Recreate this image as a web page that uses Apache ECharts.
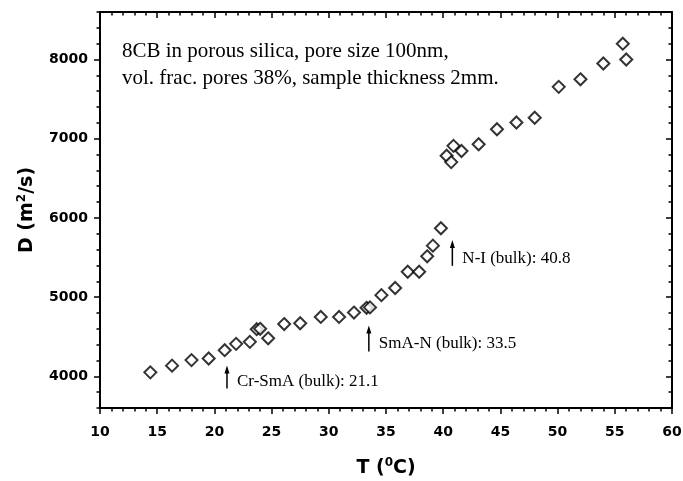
<!DOCTYPE html>
<html>
<head>
<meta charset="utf-8">
<script src="https://cdn.jsdelivr.net/npm/echarts@6/dist/echarts.min.js"></script>
<style>
html,body{margin:0;padding:0;background:#fff;}
#chart{width:683px;height:481px;}
</style>
</head>
<body>
<div id="chart"></div>
<script>
// ---- data ----
const temperatures = [14.4,16.3,18.0,19.5,20.9,21.9,23.1,23.7,24.0,24.7,26.1,27.5,29.3,30.9,32.2,33.3,33.6,34.6,35.8,36.9,37.9,38.6,39.1,39.8,40.3,40.7,40.9,41.6,43.1,44.7,46.4,48.0,50.1,52.0,54.0,55.7,56.0];
const diffusion = [4050,4135,4205,4225,4330,4410,4435,4595,4600,4480,4660,4670,4750,4750,4805,4865,4870,5025,5115,5320,5320,5515,5650,5870,6785,6705,6910,6845,6930,7120,7205,7265,7655,7750,7950,8200,8000];
const xTickLabels = [10,15,20,25,30,35,40,45,50,55,60];
const yTickLabels = [4000,5000,6000,7000,8000];
const transitionTemps = [21.1,33.5,40.8];
const transitionLabels = ['Cr-SmA (bulk): 21.1','SmA-N (bulk): 33.5','N-I (bulk): 40.8'];
const transitionArrowLow = [3845,4314,5395];
const transitionArrowHigh = [4138,4641,5721];
const noteLines = ['8CB in porous silica, pore size 100nm,','vol. frac. pores 38%, sample thickness 2mm.'];

// ---- chart ----
const points = temperatures.map((t,i)=>[t,diffusion[i]]);
const arrows = transitionTemps.map((t,i)=>[t,transitionArrowLow[i],transitionArrowHigh[i],i]);

const labelFont = {fontFamily:'DejaVu Sans',fontWeight:'bold',fontSize:14,color:'#000',formatter:function(v){return String(v);}};
const lineStyle = {color:'#000',width:2};

const chart = echarts.init(document.getElementById('chart'),null,{renderer:'canvas'});

const xBase = {type:'value',min:10,max:60,interval:5,splitLine:{show:false},minorSplitLine:{show:false}};
const yBase = {type:'value',min:3600,max:8600,interval:200,splitLine:{show:false}};
const nameStyle = {fontFamily:'DejaVu Sans',fontWeight:'bold',fontSize:19,color:'#000',lineHeight:22,
  rich:{sup:{fontFamily:'DejaVu Sans',fontWeight:'bold',fontSize:12,lineHeight:12,verticalAlign:'top',color:'#000'}}};

chart.setOption({
  animation:false,
  backgroundColor:'#fff',
  grid:{left:100,right:11,top:12,bottom:73,containLabel:false,outerBoundsMode:'none'},
  xAxis:[
    Object.assign({},xBase,{
      position:'bottom',
      axisLine:{show:true,onZero:false,lineStyle},
      axisTick:{show:true,inside:false,length:6,lineStyle:{color:'#000',width:1.5}},
      minorTick:{show:true,splitNumber:5,length:3.5,lineStyle:{color:'#000',width:1.5}},
      axisLabel:Object.assign({margin:17,customValues:xTickLabels},labelFont),
      name:'T ({sup|0}C)',nameLocation:'middle',nameGap:49,
      nameTextStyle:nameStyle
    }),
    Object.assign({},xBase,{
      position:'top',
      axisLine:{show:true,onZero:false,lineStyle},
      axisTick:{show:true,inside:true,length:6,lineStyle:{color:'#000',width:1.5}},
      minorTick:{show:true,splitNumber:5,length:3.5,lineStyle:{color:'#000',width:1.5}},
      axisLabel:{show:false}
    })
  ],
  yAxis:[
    Object.assign({},yBase,{
      position:'left',
      axisLine:{show:true,onZero:false,lineStyle},
      axisTick:{show:true,inside:false,length:3.5,lineStyle:{color:'#000',width:1.5}},
      axisLabel:Object.assign({margin:12,customValues:yTickLabels},labelFont),
      name:'D (m{sup|2}/s)',nameLocation:'middle',nameGap:61,nameRotate:90,
      nameTextStyle:nameStyle
    }),
    Object.assign({},yBase,{
      position:'left',
      axisLine:{show:false},
      axisTick:{show:true,inside:false,length:6,customValues:yTickLabels,lineStyle:{color:'#000',width:1.5}},
      axisLabel:{show:false}
    }),
    Object.assign({},yBase,{
      position:'right',
      axisLine:{show:true,onZero:false,lineStyle},
      axisTick:{show:true,inside:true,length:3.5,lineStyle:{color:'#000',width:1.5}},
      axisLabel:{show:false}
    }),
    Object.assign({},yBase,{
      position:'right',
      axisLine:{show:false},
      axisTick:{show:true,inside:true,length:6,customValues:yTickLabels,lineStyle:{color:'#000',width:1.5}},
      axisLabel:{show:false}
    })
  ],
  graphic:[{
    type:'text',left:122,top:38,
    style:{text:noteLines.join('\n'),fill:'#000',fontFamily:'Liberation Serif',fontSize:21,lineHeight:27}
  }],
  series:[
    {
      type:'scatter',xAxisIndex:0,yAxisIndex:0,
      data:points,symbol:'diamond',symbolSize:12,
      itemStyle:{color:'#fff',borderColor:'#000',borderWidth:2},
      z:3
    },
    {
      type:'custom',xAxisIndex:0,yAxisIndex:0,
      data:arrows,
      renderItem:function(params,api){
        const t = api.value(0), lo = api.value(1), hi = api.value(2), idx = api.value(3);
        const pLo = api.coord([t,lo]);
        const pHi = api.coord([t,hi]);
        const pTxt = api.coord([t,lo+0.3*(hi-lo)]);
        const head = 8;
        return {type:'group',children:[
          {type:'line',shape:{x1:pLo[0],y1:pLo[1],x2:pHi[0],y2:pHi[1]+head-1},style:{stroke:'#000',lineWidth:1.5}},
          {type:'polygon',shape:{points:[[pHi[0],pHi[1]],[pHi[0]-2.5,pHi[1]+head],[pHi[0]+2.5,pHi[1]+head]]},style:{fill:'#000'}},
          {type:'text',style:{text:transitionLabels[idx],x:pLo[0]+10,y:pTxt[1],fill:'#000',
            fontFamily:'Liberation Serif',fontSize:17,verticalAlign:'middle',align:'left'}}
        ]};
      },
      z:4
    }
  ]
});
</script>
</body>
</html>
